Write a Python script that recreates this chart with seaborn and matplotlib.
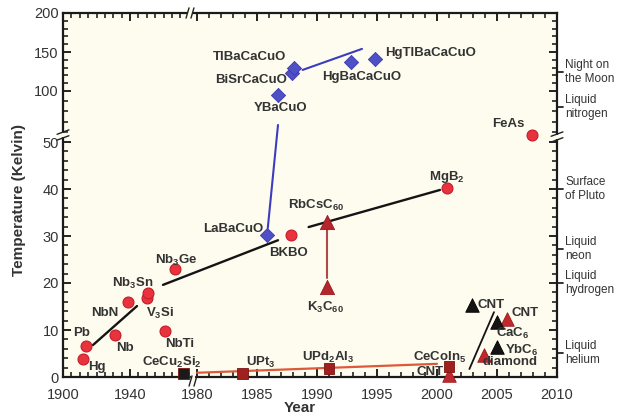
import numpy as np
import pandas as pd
import matplotlib
matplotlib.use("Agg")
import matplotlib.pyplot as plt
import matplotlib.transforms as mtransforms
from matplotlib.ticker import FixedLocator, NullFormatter
import seaborn as sns

# ---------------- data ----------------
conv_names = ["Hg", "Pb", "Nb", "NbN", "V3Si", "Nb3Sn", "NbTi", "Nb3Ge", "BKBO", "MgB2", "FeAs"]
conv_year = [1912, 1914, 1931, 1939, 1950, 1951, 1961, 1967, 1987.8, 2000.8, 2007.9]
conv_tc = [3.8, 6.7, 8.9, 16.0, 16.8, 17.9, 9.8, 23.0, 30.2, 40.2, 57.0]

cup_names = ["LaBaCuO", "YBaCuO", "BiSrCaCuO", "TlBaCaCuO", "HgBaCaCuO", "HgTlBaCaCuO"]
cup_year = [1985.8, 1986.75, 1987.9, 1988.1, 1992.8, 1994.8]
cup_tc = [30.2, 96, 123, 129, 137, 141]

ful_names = ["RbCsC60", "K3C60"]
ful_year = [1990.8, 1990.8]
ful_tc = [33.0, 19.1]

redtri_names = ["CNT (2001)", "diamond", "CNT (2006)"]
redtri_year = [2001.0, 2003.9, 2005.8]
redtri_tc = [0.5, 4.7, 12.3]

blktri_names = ["CNT (2003)", "CaC6", "YbC6"]
blktri_year = [2002.9, 2005.0, 2005.0]
blktri_tc = [15.3, 11.7, 6.4]

hf_names = ["CeCu2Si2", "UPt3", "UPd2Al3", "CeCoIn5"]
hf_year = [1972, 1983.8, 1991.0, 2001.0]
hf_tc = [0.8, 0.8, 1.9, 2.3]

# trend lines (start/end points)
conv_line1_year, conv_line1_tc = [1917.9, 1944.2], [6.8, 15.1]
conv_line2_year, conv_line2_tc = [1959.7, 1986.75], [19.6, 29.1]
conv_line3_year, conv_line3_tc = [1989.3, 2000.25], [31.9, 39.8]
cup_line1_year, cup_line1_tc = [1985.9, 1986.75], [31.7, 66.7]
cup_line2_year, cup_line2_tc = [1988.8, 1993.75], [127, 154]
ful_line_year, ful_line_tc = [1990.8, 1990.8], [31.5, 21.0]
hf_line_year, hf_line_tc = [1980.0, 2000.0], [0.9, 2.8]
carb_line_year, carb_line_tc = [2002.7, 2004.75], [1.7, 13.8]

x_major = [1900, 1940, 1980, 1985, 1990, 1995, 2000, 2005, 2010]
y_major = [0, 10, 20, 30, 40, 50, 100, 150, 200]

ref_names = ["Night on\nthe Moon", "Liquid\nnitrogen", "Surface\nof Pluto",
             "Liquid\nneon", "Liquid\nhydrogen", "Liquid\nhelium"]
ref_tc = [124, 84, 40, 27.2, 20, 5.1]

# ---------------- style ----------------
sns.set_theme(style="ticks")
plt.rcParams["font.family"] = ["Liberation Sans", "DejaVu Sans"]
plt.rcParams["mathtext.fontset"] = "custom"
plt.rcParams["mathtext.rm"] = "Liberation Sans:bold"
plt.rcParams["mathtext.it"] = "Liberation Sans:bold"
plt.rcParams["mathtext.bf"] = "Liberation Sans:bold"


def piecewise(xp, fp):
    xp = np.asarray(xp, float)
    fp = np.asarray(fp, float)

    def f(v):
        v = np.asarray(v, float)
        out = np.interp(v, xp, fp)
        out = np.where(v < xp[0], fp[0] + (v - xp[0]) * (fp[1] - fp[0]) / (xp[1] - xp[0]), out)
        out = np.where(v > xp[-1], fp[-1] + (v - xp[-1]) * (fp[-1] - fp[-2]) / (xp[-1] - xp[-2]), out)
        return out
    return f


x_bp, x_px = [1900, 1980, 2010], [0, 134, 494]
y_bp, y_px = [0, 50, 100, 200], [0, 235, 286, 364]
xf, xi = piecewise(x_bp, x_px), piecewise(x_px, x_bp)
yf, yi = piecewise(y_bp, y_px), piecewise(y_px, y_bp)

W, H = 619, 419
L, R, T, B = 63, 557, 13, 377
fig = plt.figure(figsize=(W / 100, H / 100), dpi=100)
fig.patch.set_facecolor("white")
ax = fig.add_axes([L / W, (H - B) / H, (R - L) / W, (B - T) / H])
ax.set_facecolor("#fdfcef")
ax.set_xscale("function", functions=(xf, xi))
ax.set_yscale("function", functions=(yf, yi))
ax.set_xlim(1900, 2010)
ax.set_ylim(0, 200)

# ---------------- lines ----------------
blk = "#141414"
ax.plot(conv_line1_year, conv_line1_tc, color=blk, lw=1.7, zorder=2)
ax.plot(conv_line2_year, conv_line2_tc, color=blk, lw=1.7, zorder=2)
ax.plot(conv_line3_year, conv_line3_tc, color=blk, lw=1.7, zorder=2)
ax.plot(cup_line1_year, cup_line1_tc, color="#3c3cc0", lw=1.5, zorder=2)
ax.plot(cup_line2_year, cup_line2_tc, color="#3c3cc0", lw=1.5, zorder=2)
ax.plot(ful_line_year, ful_line_tc, color="#b04a48", lw=1.5, zorder=2)
ax.plot(hf_line_year, hf_line_tc, color="#dc5a3a", lw=1.6, zorder=2)
ax.plot(carb_line_year, carb_line_tc, color=blk, lw=1.3, zorder=2)

# ---------------- markers ----------------
sns.scatterplot(x=conv_year, y=conv_tc, ax=ax, marker="o", s=62,
                color="#e8333e", edgecolor="#c41d2a", linewidth=0.8, zorder=4, legend=False)
sns.scatterplot(x=cup_year, y=cup_tc, ax=ax, marker="D", s=52,
                color="#4f4fc6", edgecolor="#3a3ab0", linewidth=0.6, zorder=4, legend=False)
sns.scatterplot(x=ful_year, y=ful_tc, ax=ax, marker="^", s=105,
                color="#b3262b", edgecolor="#9a1a20", linewidth=0.6, zorder=4, legend=False)
sns.scatterplot(x=redtri_year, y=redtri_tc, ax=ax, marker="^", s=95,
                color="#c0282d", edgecolor="#9a1a20", linewidth=0.6, zorder=4, legend=False, clip_on=False)
sns.scatterplot(x=blktri_year, y=blktri_tc, ax=ax, marker="^", s=95,
                color="#141414", edgecolor="#000000", linewidth=0.6, zorder=4, legend=False)
hf_colors = ["#1a1a1a", "#a0201e", "#a0201e", "#a0201e"]
sns.scatterplot(x=hf_year, y=hf_tc, ax=ax, marker="s", s=62, hue=hf_names,
                palette=hf_colors, edgecolor="#7a1414", linewidth=0.6, zorder=5,
                legend=False, clip_on=False)

# ---------------- ticks ----------------
ax.xaxis.set_major_locator(FixedLocator(x_major))
x_minor = [v for v in list(range(1905, 1980, 5)) + list(range(1981, 2010)) if v not in x_major]
ax.xaxis.set_minor_locator(FixedLocator(x_minor))
ax.xaxis.set_minor_formatter(NullFormatter())
ax.set_xticklabels([str(v) for v in x_major])
ax.yaxis.set_major_locator(FixedLocator(y_major))
y_minor = [v for v in list(range(2, 50, 2)) + list(range(60, 200, 10)) if v not in y_major]
ax.yaxis.set_minor_locator(FixedLocator(y_minor))
ax.yaxis.set_minor_formatter(NullFormatter())
ax.set_yticklabels([str(v) for v in y_major])
ax.tick_params(which="both", direction="in", top=True, right=True, color="#222222")
ax.tick_params(which="major", length=6, width=1.4, labelsize=10.5, labelcolor="#333333", pad=3)
ax.tick_params(axis="x", which="major", pad=8)
ax.tick_params(which="minor", length=3.5, width=1.2)
for s in ax.spines.values():
    s.set_linewidth(1.6)
    s.set_color("#1a1a1a")

ax.set_xlabel("Year", fontsize=11, fontweight="bold", color="#333333")
ax.set_ylabel("Temperature (Kelvin)", fontsize=11, fontweight="bold", color="#333333")
ax.xaxis.set_label_coords((300 - L) / (R - L), (B - 401) / (B - T))
ax.yaxis.set_label_coords((26 - L) / (R - L), (B - 200) / (B - T))

# ---------------- right-hand reference labels ----------------
trans = mtransforms.blended_transform_factory(ax.transAxes, ax.transData)
for name, v in zip(ref_names, ref_tc):
    ax.plot([1.0, 1.013], [v, v], transform=trans, color="#222222", lw=1.3, clip_on=False)
    ax.text(1.017, v, name, transform=trans, ha="left", va="center",
            fontsize=8.5, color="#333333", linespacing=1.25)

# ---------------- point labels ----------------
def lab(txt, px, py, ha="center", color="#333333"):
    ax.text((px - L) / (R - L), (B - py) / (B - T), txt, transform=ax.transAxes,
            ha=ha, va="center", fontsize=9.5, fontweight="bold", color=color, zorder=6)

lab("Hg", 97, 367)
lab("Pb", 82, 333)
lab("Nb", 125, 348)
lab("NbN", 105, 313)
lab(r"V$_3$Si", 160, 313)
lab(r"Nb$_3$Sn", 133, 283)
lab("NbTi", 180, 344)
lab(r"Nb$_3$Ge", 176, 260)
lab(r"CeCu$_2$Si$_2$", 172, 362)
lab(r"UPt$_3$", 261, 362)
lab(r"UPd$_2$Al$_3$", 328, 357)
lab(r"CeCoIn$_5$", 440, 357)
lab("CNT", 430, 372)
lab("LaBaCuO", 233, 229)
lab("BKBO", 288, 253)
lab(r"RbCsC$_{60}$", 316, 205)
lab(r"K$_3$C$_{60}$", 325, 307)
lab(r"MgB$_2$", 447, 177)
lab("FeAs", 508, 124)
lab("YBaCuO", 281, 108)
lab("BiSrCaCuO", 251, 80)
lab("TlBaCaCuO", 250, 57)
lab("HgBaCaCuO", 362, 77)
lab("HgTlBaCaCuO", 431, 53)
lab("CNT", 478, 305, ha="left")
lab("CNT", 511, 313, ha="left")
lab(r"CaC$_6$", 513, 333)
lab(r"YbC$_6$", 522, 350)
lab("diamond", 510, 362)

# ---------------- axis break marks ----------------
def brk(cx, cy, vertical_axis):
    dx, dy = 0.006, 0.014
    if vertical_axis:
        ax.plot([cx - 0.012, cx + 0.012], [cy, cy], transform=ax.transAxes, color="#fdfcef",
                lw=3, clip_on=False, zorder=7, solid_capstyle="butt")
        for off in (-0.008, 0.008):
            ax.plot([cx - 0.012, cx + 0.012], [cy + off - 0.006, cy + off + 0.006],
                    transform=ax.transAxes, color="#222222", lw=1.0, clip_on=False, zorder=8)
    else:
        ax.plot([cx, cx], [cy - 0.02, cy + 0.02], transform=ax.transAxes, color="#fdfcef",
                lw=3, clip_on=False, zorder=7, solid_capstyle="butt")
        for off in (-0.005, 0.005):
            ax.plot([cx + off - dx / 2, cx + off + dx / 2], [cy - dy, cy + dy],
                    transform=ax.transAxes, color="#222222", lw=1.0, clip_on=False, zorder=8)

brk((190 - L) / (R - L), 1.0, False)
brk((193 - L) / (R - L), (B - 381) / (B - T), False)
brk(0.0, (B - 135) / (B - T), True)
brk(1.0, (B - 137) / (B - T), True)

fig.savefig("out.png", dpi=100, facecolor="white")
